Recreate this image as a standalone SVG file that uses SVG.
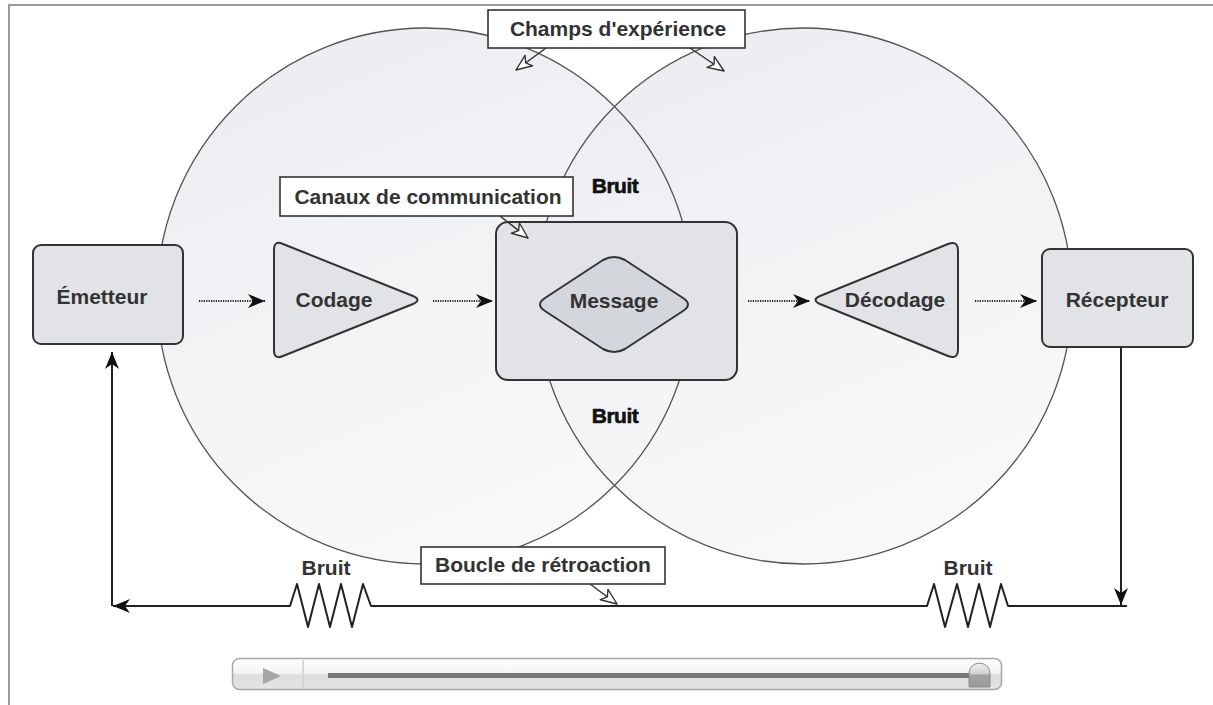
<svg xmlns="http://www.w3.org/2000/svg" width="1213" height="705" viewBox="0 0 1213 705">
<style>
.lbl{font-family:"Liberation Sans",Arial,sans-serif;font-weight:bold;font-size:21px;fill:#333;text-anchor:middle}
.noise{font-family:"Liberation Sans",Arial,sans-serif;font-weight:bold;font-size:21px;fill:#111;text-anchor:middle;stroke:#111;stroke-width:0.6;letter-spacing:-0.5px}
.node{fill:#e1e3e6;stroke:#333;stroke-width:2}
.inner{fill:#d3d7db;stroke:#333;stroke-width:2}
.callout{fill:#fff;stroke:#333;stroke-width:1.6}
.dot{fill:none;stroke:#222;stroke-width:2;stroke-dasharray:1.2 1.2}
.solid{fill:none;stroke:#222;stroke-width:2}
.ptr{fill:none;stroke:#333;stroke-width:1.5}
.ring{fill:none;stroke:#555;stroke-width:1.3}
</style>
<defs>
<linearGradient id="cg" x1="0" y1="0" x2="0.4" y2="1">
<stop offset="0" stop-color="#eaecf0"/>
<stop offset="1" stop-color="#f8f8f9"/>
</linearGradient>
<linearGradient id="barg" x1="0" y1="0" x2="0" y2="1">
<stop offset="0" stop-color="#ffffff"/>
<stop offset="0.45" stop-color="#f4f4f4"/>
<stop offset="0.55" stop-color="#dedede"/>
<stop offset="1" stop-color="#e4e4e4"/>
</linearGradient>
<linearGradient id="knobg" x1="0" y1="0" x2="0" y2="1">
<stop offset="0" stop-color="#f2f2f2"/>
<stop offset="0.45" stop-color="#d0d0d0"/>
<stop offset="0.5" stop-color="#a3a3a3"/>
<stop offset="1" stop-color="#9a9a9a"/>
</linearGradient>
<marker id="ah" markerUnits="userSpaceOnUse" markerWidth="18" markerHeight="16" viewBox="0 0 18 16" refX="17" refY="8" orient="auto">
<path d="M0,1 L17,8 L0,15 L5,8 Z" fill="#111"/>
</marker>
<marker id="hollow" markerUnits="userSpaceOnUse" markerWidth="22" markerHeight="16" viewBox="-19 -8 22 16" refX="0" refY="0" orient="auto">
<path d="M0,0 L-16,-6.5 L-12,0 L-16,6.5 Z" fill="#fff" stroke="#333" stroke-width="1.4" stroke-linejoin="round"/>
</marker>
</defs>

<rect x="0" y="0" width="1213" height="705" fill="#fff"/>
<path d="M9,705 L9,5 L1213,5" fill="none" stroke="#9a9a9a" stroke-width="2"/>

<g id="champs-experience">
<circle cx="425" cy="296" r="268" fill="url(#cg)"/>
<circle cx="804" cy="296" r="268" fill="url(#cg)"/>
<circle class="ring" cx="425" cy="296" r="268"/>
<circle class="ring" cx="804" cy="296" r="268"/>
</g>

<g id="connectors">
<line class="dot" x1="199" y1="301" x2="265" y2="301" marker-end="url(#ah)"/>
<line class="dot" x1="433" y1="301" x2="493" y2="301" marker-end="url(#ah)"/>
<line class="dot" x1="748" y1="301" x2="810" y2="301" marker-end="url(#ah)"/>
<line class="dot" x1="975" y1="301" x2="1037" y2="301" marker-end="url(#ah)"/>
<line class="solid" x1="1121" y1="347" x2="1121" y2="605" marker-end="url(#ah)"/>
<polyline class="solid" stroke-linejoin="round" points="1127,606 1008,606 1001,584 990,627 979,584 968,627 957,584 945,627 934,584 927,606 371,606 363,584 352,627 341,584 330,627 319,584 308,627 297,584 290,606 113,606" marker-end="url(#ah)"/>
<line class="solid" x1="112" y1="606" x2="112" y2="352" marker-end="url(#ah)"/>
</g>

<g id="emetteur">
<rect class="node" x="33" y="245" width="150" height="99" rx="8"/>
<text class="lbl" x="102" y="304">Émetteur</text>
</g>

<g id="codage">
<path class="node" d="M274,250 Q274,240 283,244 L413,296 Q422,300 413,304 L283,356 Q274,360 274,350 Z"/>
<text class="lbl" x="334" y="307">Codage</text>
</g>

<g id="canal">
<rect class="node" x="496" y="222" width="241" height="158" rx="12"/>
</g>

<g id="message">
<path class="inner" d="M545,298 L603,260 Q614,254 625,260 L683,298 Q693,304.5 683,311 L625,349 Q614,355 603,349 L545,311 Q535,304.5 545,298 Z"/>
<text class="lbl" x="614" y="308">Message</text>
</g>

<g id="decodage">
<path class="node" d="M958,251 Q958,240 948,244 L820,296 Q811,300 820,304 L948,356 Q958,360 958,349 Z"/>
<text class="lbl" x="895" y="307">Décodage</text>
</g>

<g id="recepteur">
<rect class="node" x="1042" y="249" width="151" height="98" rx="8"/>
<text class="lbl" x="1117" y="307">Récepteur</text>
</g>

<g id="bruit-haut"><text class="noise" x="615" y="193">Bruit</text></g>
<g id="bruit-bas"><text class="noise" x="615" y="423">Bruit</text></g>
<g id="bruit-gauche"><text class="lbl" x="326" y="575">Bruit</text></g>
<g id="bruit-droite"><text class="lbl" x="968" y="575">Bruit</text></g>

<g id="callout-pointers">
<line class="ptr" x1="546" y1="48" x2="516" y2="70" marker-end="url(#hollow)"/>
<line class="ptr" x1="690" y1="48" x2="724" y2="71" marker-end="url(#hollow)"/>
<line class="ptr" x1="500" y1="216" x2="528" y2="238" marker-end="url(#hollow)"/>
<line class="ptr" x1="590" y1="584" x2="617" y2="604" marker-end="url(#hollow)"/>
</g>

<g id="callout-champs">
<rect class="callout" x="488" y="10" width="257" height="38"/>
<text class="lbl" x="618" y="36">Champs d'expérience</text>
</g>

<g id="callout-canaux">
<rect class="callout" x="280" y="177" width="293" height="39"/>
<text class="lbl" x="428" y="204">Canaux de communication</text>
</g>

<g id="callout-boucle">
<rect class="callout" x="421" y="547" width="244" height="37"/>
<text class="lbl" x="543" y="572">Boucle de rétroaction</text>
</g>

<g id="player">
<rect x="232.5" y="658.5" width="769" height="31" rx="7" fill="url(#barg)" stroke="#a8a8a8" stroke-width="1.5"/>
<polygon points="263,668 281,676 263,684" fill="#a5a5a5"/>
<line x1="303" y1="660" x2="303" y2="688" stroke="#cfcfcf" stroke-width="1.5"/>
<rect x="328" y="673" width="650" height="5" fill="#777"/>
<path d="M969,687 L969,674 Q969,664 979.5,663 Q990,664 990,674 L990,687 Z" fill="url(#knobg)" stroke="#8a8a8a" stroke-width="1"/>
</g>
</svg>
